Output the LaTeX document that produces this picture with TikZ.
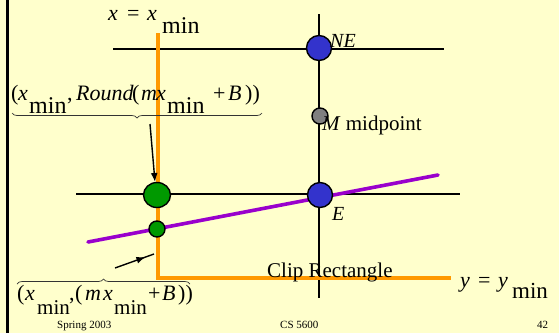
\documentclass[tikz,border=0pt]{standalone}
\usepackage{fontspec}
\setmainfont{Liberation Serif}
\usetikzlibrary{arrows.meta,decorations.pathreplacing,decorations.markings,shapes.geometric}
\definecolor{bgyellow}{HTML}{FFFFCC}
\definecolor{clipor}{HTML}{FF9900}
\definecolor{linepur}{HTML}{9900CC}
\definecolor{ptblue}{HTML}{3333CC}
\definecolor{ptgreen}{HTML}{009900}
\definecolor{ptgray}{HTML}{808080}
\newcommand\seg[2]{\makebox[#1pt][l]{#2}}
\newcommand\fs[1]{\fontsize{#1}{#1}\selectfont}
\newcommand\lowmin[2]{\raisebox{-#1pt}{\fs{#2}min}}
\begin{document}
\begin{tikzpicture}[x=1pt,y=-1pt,
  gridline/.style={line width=1.6pt,black},
  clipline/.style={line width=3.6pt,clipor},
  segline/.style={line width=3.6pt,linepur,line cap=round},
  pt/.style={circle,draw=black,line width=1.4pt,inner sep=0pt},
  lbl/.style={inner sep=0pt,anchor=base west},
  ptr/.style={line width=1.4pt,black},
  bracestyle/.style={line width=0.7pt,black!80}]
\useasboundingbox (0,0) rectangle (559,333);
\fill[bgyellow] (0,0) rectangle (559,333);
\draw[line width=2.4pt] (7.5,0) coordinate (bt) -- (7.5,333) coordinate (bb);
% grid
\coordinate (h1a) at (113,49); \coordinate (h1b) at (444,49);
\coordinate (h2a) at (76,194); \coordinate (h2b) at (460,194);
\coordinate (v1a) at (319,14); \coordinate (v1b) at (319,298);
\draw[gridline] (h1a) -- (h1b);
\draw[gridline] (h2a) -- (h2b);
\draw[gridline] (v1a) -- (v1b);
% clip rectangle
\coordinate (ct) at (158,33); \coordinate (cc) at (158,278); \coordinate (cr) at (451,278);
\draw[clipline] (ct) -- (cc) -- (cr);
% line segment
\coordinate (pa) at (88,242); \coordinate (pb) at (438,175);
\draw[segline] (pa) -- (pb);
% points
\node[pt,fill=ptblue,minimum size=25pt] (NE) at (319,48) {};
\node[pt,fill=ptgray,minimum size=16pt] (M) at (320,116) {};
\node[pt,fill=ptblue,minimum size=25pt] (E) at (320,195) {};
\node[pt,ellipse,fill=ptgreen,minimum width=27pt,minimum height=25pt] (G1) at (157,195) {};
\node[pt,fill=ptgreen,minimum size=16pt] (G2) at (157,229) {};
% labels
\node[lbl] (lNE) at (330,47) {\fs{20}\textit{NE}};
\node[lbl] (lM) at (322,130) {\fs{21}\textit{M} midpoint};
\node[lbl] (lE) at (332,220) {\fs{20}\textit{E}};
\node[lbl] (lclip) at (267,277) {\fs{21}Clip Rectangle};
\node[lbl] (lx) at (108,20) {\fs{22}\seg{19}{\textit{x}}\seg{20}{=}\seg{15}{\textit{x}}\lowmin{13}{24}};
\node[lbl] (ly) at (460,287) {\fs{22}\seg{18}{\textit{y}}\seg{20}{=}\seg{14}{\textit{y}}\lowmin{11}{23}};
\node[lbl] (ltop) at (11,100) {\fs{22}\seg{7}{(}\seg{11}{\textit{x}}\seg{38}{\lowmin{13}{24}}\seg{9}{,}\seg{56}{\textit{Round}}\seg{9}{(}\seg{15}{\textit{m}}\seg{11}{\textit{x}}\seg{46}{\lowmin{13}{24}}\seg{15}{+}\seg{17}{\textit{B}}))};
\node[lbl] (lbot) at (17,300) {\fs{22}\seg{8}{(}\seg{12}{\textit{x}}\seg{32}{\lowmin{14}{21}}\seg{6}{,}\seg{10}{(}\seg{18}{\textit{m}}\seg{11}{\textit{x}}\seg{34}{\lowmin{14}{21}}\seg{14}{+}\seg{16}{\textit{B}}))};
% braces
\coordinate (bra) at (12,113); \coordinate (brb) at (262,113);
\draw[bracestyle,decorate,decoration={brace,amplitude=5pt,mirror}] (bra) -- (brb);
\coordinate (bca) at (17,284); \coordinate (bcb) at (190,284);
\draw[bracestyle,decorate,decoration={brace,amplitude=5pt}] (bca) -- (bcb);
% pointers
\coordinate (a1s) at (150,124); \coordinate (a1e) at (155,182);
\draw[ptr,-{Latex[length=9pt,width=7pt]}] (a1s) -- (a1e);
\coordinate (a2s) at (115,268); \coordinate (a2e) at (154,254);
\draw[ptr,decoration={markings,mark=at position 0.78 with {\arrow{Latex[length=9pt,width=7pt]}}},postaction={decorate}] (a2s) -- (a2e);
% footer
\node[lbl] (f1) at (57,328) {\fs{11}Spring 2003};
\node[lbl] (f2) at (280,328) {\fs{11}CS 5600};
\node[lbl] (f3) at (537,328) {\fs{11}42};
\end{tikzpicture}
\end{document}
